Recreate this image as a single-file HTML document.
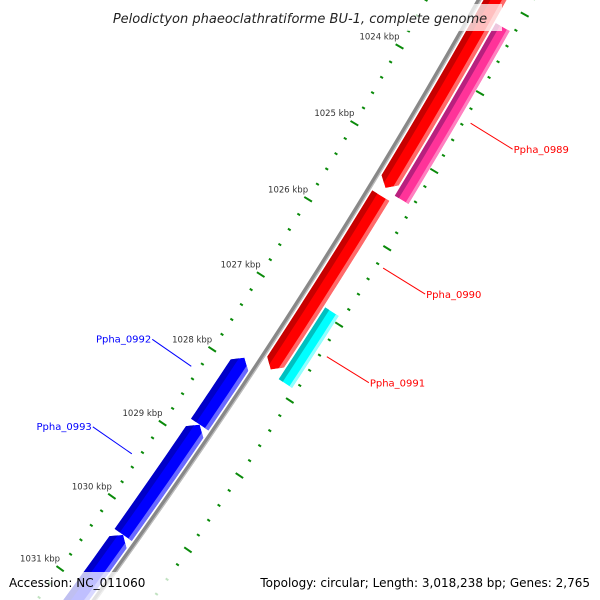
<!DOCTYPE html>
<html><head><meta charset="utf-8"><style>
html,body{margin:0;padding:0;background:#fff;width:600px;height:600px;overflow:hidden}
svg{display:block;overflow:hidden}
text{font-family:"DejaVu Sans","Liberation Sans",sans-serif}
</style></head><body>
<svg id="map" width="600" height="600" viewBox="0 0 600 600" xmlns="http://www.w3.org/2000/svg">
<defs id="defs"></defs>
<g id="ticks"></g>
<g id="backbone"></g>
<g id="genes"></g>
<g id="labels"></g>
<rect x="98" y="4" width="404" height="27" fill="#fff" fill-opacity="0.75"/>
<text x="300" y="23" text-anchor="middle" font-size="13" font-style="italic" fill="#222">Pelodictyon phaeoclathratiforme BU-1, complete genome</text>
<rect x="0" y="572" width="600" height="28" fill="#fff" fill-opacity="0.75"/>
<text x="9" y="587" font-size="12" fill="#000">Accession: NC_011060</text>
<text x="590" y="587" text-anchor="end" font-size="12" fill="#000">Topology: circular; Length: 3,018,238 bp; Genes: 2,765</text>
</svg>
<script>
// data
const geneNames = ["Ppha_0988","Ppha_0989","Ppha_0990","Ppha_0991","Ppha_0992","Ppha_0993","Ppha_0994"];
const geneStart = [1021.5, 1023.24, 1025.54, 1026.92, 1027.88, 1028.78, 1030.28];
const geneEnd   = [1025.44, 1025.46, 1027.83, 1027.87, 1028.78, 1030.28, 1032.5];
const geneStrand = [1, 0, 1, 0, -1, -1, -1];
const geneRing = ["fwd","orf","fwd","orf","rev","rev","rev"];
const geneColor = ["red","pink","red","cyan","blue","blue","blue"];
const showLabel = [false, true, true, true, true, true, false];
const labelKbp = [0, 1024.34, 1026.21, 1027.37, 1028.29, 1029.48, 0];
const majorTicks = [1023, 1024, 1025, 1026, 1027, 1028, 1029, 1030, 1031, 1032];

// geometry
const CX = -4794, CY = -2958;
const A0 = 30.9, DA = 0.85;
const R_INNER_TICK = 6000, R_OUTER_TICK = 6093, R_BACK = 6046;
const rings = {rev:[6021,6042], fwd:[6050,6070], orf:[6072,6088]};
const palette = {
  red:{dark:"#c80000",base:"#ff0000",light:"#ff6a6a"},
  blue:{dark:"#0000c8",base:"#0000ff",light:"#6a6aff"},
  pink:{dark:"#b8207e",base:"#ff3399",light:"#ff80c0"},
  cyan:{dark:"#00c0c0",base:"#00ffff",light:"#90ffff"}
};
function ang(k){return (A0+(k-1025)*DA)*Math.PI/180;}
function pt(k,r){const a=ang(k);return [CX+r*Math.cos(a),CY+r*Math.sin(a)];}
function arcPts(k1,k2,r,n){const p=[];for(let i=0;i<=n;i++){p.push(pt(k1+(k2-k1)*i/n,r));}return p;}
const NS="http://www.w3.org/2000/svg";
function mk(tag,attrs,parent){const e=document.createElementNS(NS,tag);for(const k in attrs)e.setAttribute(k,attrs[k]);parent.appendChild(e);return e;}
function ps(p){return p.map(q=>q[0].toFixed(2)+","+q[1].toFixed(2)).join(" ");}

// ticks
const tg=document.getElementById("ticks");
for(let t=1022;t<=1033.001;t+=0.2){
  const k=Math.round(t*10)/10;
  const major=Math.abs(k-Math.round(k))<0.01;
  const half=major?4.5:1.6;
  [R_INNER_TICK,R_OUTER_TICK].forEach((R,ri)=>{
    const a=pt(k,R-half),b=pt(k,R+half);
    const ln=mk("line",{x1:a[0],y1:a[1],x2:b[0],y2:b[1],stroke:"#0a8a0a","stroke-width":2},tg);
    
    
  });
}
majorTicks.forEach(k=>{
  const p=pt(k,R_INNER_TICK);
  const tx=mk("text",{x:p[0],y:p[1]-7,"text-anchor":"end","font-size":"8.5",fill:"#333"},tg);
  tx.textContent=k+" kbp";
  
  
});

// backbone
const bg=document.getElementById("backbone");
const bp=arcPts(1021,1034,R_BACK,60);
const b1=mk("polyline",{points:ps(bp),fill:"none",stroke:"#888","stroke-width":4.5},bg);


const b2=mk("polyline",{points:ps(arcPts(1021,1034,R_BACK+1.6,60)),fill:"none",stroke:"#bdbdbd","stroke-width":1.2},bg);



// genes
const gg=document.getElementById("genes"), defs=document.getElementById("defs");
const HEAD=0.1;
geneNames.forEach((name,i)=>{
  const [ra,rb]=rings[geneRing[i]];
  const s=geneStart[i], e=geneEnd[i], st=geneStrand[i];
  const rm=(ra+rb)/2;
  let poly;
  if(st===1){
    poly=arcPts(s,e-HEAD,ra,20).concat([pt(e,rm)]).concat(arcPts(e-HEAD,s,rb,20));
  }else if(st===-1){
    poly=[pt(s,rm)].concat(arcPts(s+HEAD,e,ra,20)).concat(arcPts(e,s+HEAD,rb,20));
  }else{
    poly=arcPts(s,e,ra,20).concat(arcPts(e,s,rb,20));
  }
  const cp=mk("clipPath",{id:"clip"+i},defs);
  mk("polygon",{points:ps(poly)},cp);
  const g=mk("g",{"clip-path":"url(#clip"+i+")"},gg);
  
  
  const c=palette[geneColor[i]];
  mk("polygon",{points:ps(poly),fill:c.base},g);
  const w=rb-ra;
  const dk=arcPts(s-0.2,e+0.2,ra-2,20).concat(arcPts(e+0.2,s-0.2,ra+w*0.3,20));
  mk("polygon",{points:ps(dk),fill:c.dark},g);
  const lt=arcPts(s-0.2,e+0.2,rb-w*0.2,20).concat(arcPts(e+0.2,s-0.2,rb+2,20));
  mk("polygon",{points:ps(lt),fill:c.light},g);
});

// labels
const lg=document.getElementById("labels");
geneNames.forEach((name,i)=>{
  if(!showLabel[i])return;
  const outer=geneRing[i]!=="rev";
  const col=outer?"#ff0000":"#0000ff";
  let p0,p1,tx;
  if(outer){
    p0=pt(labelKbp[i],6100); p1=[p0[0]+42,p0[1]+26];
    tx=mk("text",{x:p1[0]+1,y:p1[1]+4,"font-size":"10",fill:col},lg);
  }else{
    p0=pt(labelKbp[i],5992); p1=[p0[0]-39,p0[1]-27];
    tx=mk("text",{x:p1[0]-1,y:p1[1]+3,"font-size":"10",fill:col,"text-anchor":"end"},lg);
  }
  const ln=mk("line",{x1:p0[0],y1:p0[1],x2:p1[0],y2:p1[1],stroke:col,"stroke-width":1},lg);
  
  
  tx.textContent=name;
  
  
});
</script>
</body></html>
